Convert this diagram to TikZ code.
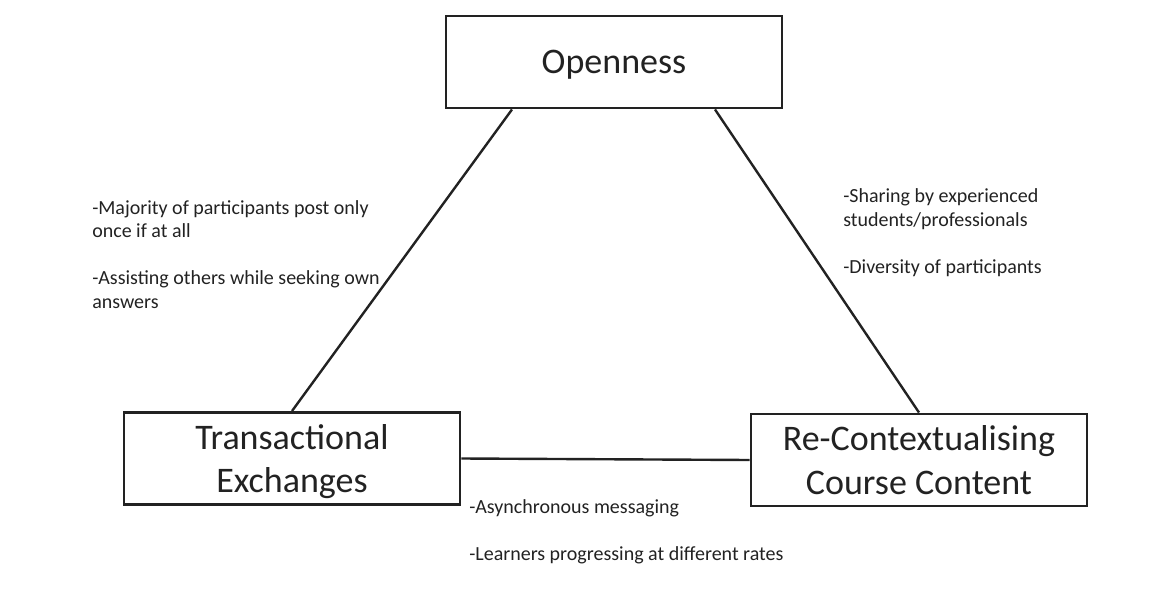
\documentclass[tikz,border=0pt]{standalone}
\usepackage{fontspec}
\setmainfont{Carlito}
\definecolor{ink}{HTML}{222222}
\tikzset{
  boxnode/.style={draw=ink, line width=2.2pt, minimum width=252pt, minimum height=69pt,
    inner sep=0.75pt, align=center, text=ink, text depth=0pt,
    font=\fontsize{27}{32.6}\selectfont},
  notenode/.style={anchor=base west, inner sep=0pt, align=left, text=ink,
    font=\fontsize{15}{17.6}\selectfont},
  link/.style={draw=ink, line width=1.8pt}
}
\begin{document}
\begin{tikzpicture}[x=0.75pt,y=0.75pt,yscale=-1,xscale=1]
\path[use as bounding box] (0,0) rectangle (1165,589);

% Box Nodes
\node [boxnode] (open) at (614,62) {Openness};
\node [boxnode] (trans) at (292,458.5) {Transactional\\Exchanges};
\node [boxnode] (recon) at (919,460) {Re-Contextualising\\Course Content};

%Straight Lines
\draw [link] ([xshift=-76.5pt]open.south) -- (trans.north);
%Straight Lines
\draw [link] ([xshift=75.75pt]open.south) -- (recon.north);
%Straight Lines
\draw [link] (trans.east) -- (recon.west);

% Text Node (base = last line)
\node [notenode] (noteleft) at (92,308) {-Majority of participants post only\\once if at all\\[17.6pt]-Assisting others while seeking own\\answers};
% Text Node
\node [notenode] (noteright) at (843,273) {-Sharing by experienced\\students/professionals\\[17.6pt]-Diversity of participants};
% Text Node
\node [notenode] (notebottom) at (469,560) {-Asynchronous messaging\\[17.6pt]-Learners progressing at different rates};

\end{tikzpicture}
\end{document}
